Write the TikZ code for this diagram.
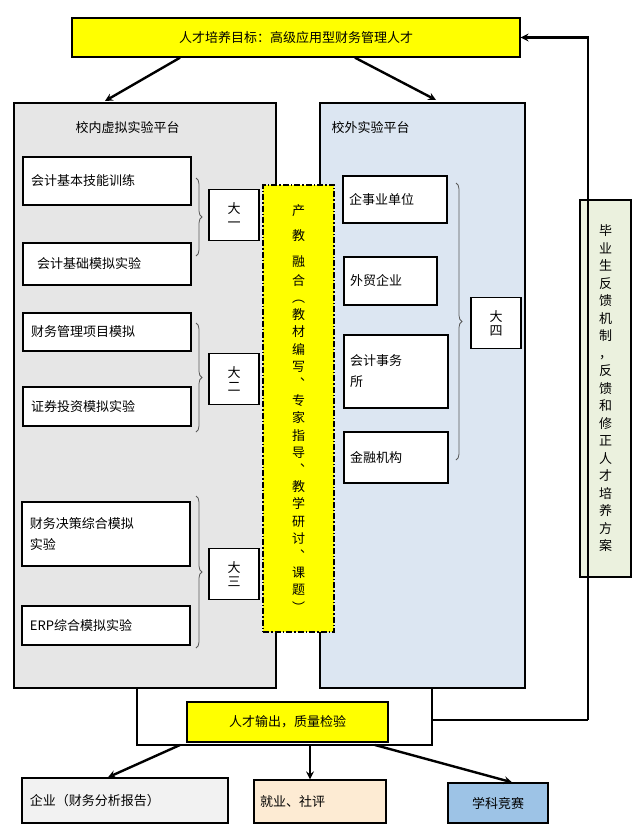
\documentclass[tikz,border=0pt]{standalone}
\usepackage{fontspec}
\setmainfont{Noto Sans CJK SC}
\usetikzlibrary{positioning,decorations.pathreplacing}
\definecolor{goalyellow}{HTML}{FFFF00}
\definecolor{panelgray}{HTML}{E6E6E6}
\definecolor{panelblue}{HTML}{DCE6F2}
\definecolor{feedgreen}{HTML}{EBF1DE}
\definecolor{firmgray}{HTML}{F2F2F2}
\definecolor{jobpeach}{HTML}{FDEBD3}
\definecolor{contestblue}{HTML}{9DC3E6}
\begin{document}
\begin{tikzpicture}[x=1pt,y=-1pt,font=\fontsize{13}{17}\selectfont,
	box/.style={draw=black, line width=1.4pt, fill=white, inner sep=0pt},
	course/.style={box, minimum height=#1, text width=152pt, align=left, inner xsep=8pt},
	grade/.style={box, minimum width=50pt, minimum height=51pt, align=center, font=\fontsize{13}{14}\selectfont},
	site/.style={box, minimum width=104pt, minimum height=#1, text width=92pt, align=left, inner xsep=6pt},
	wire/.style={line width=2.4pt},
	arr/.style={line width=2.4pt, -stealth},
	brace/.style={decorate, decoration={brace, amplitude=6pt}, line width=0.8pt, draw=gray!70!black}]
	\useasboundingbox (0,0) rectangle (640,836);
	% panels
	\node[box, fill=panelgray, minimum width=262pt, minimum height=585pt](inner) at (145,395.5) {};
	\node[box, fill=panelblue, minimum width=205pt, minimum height=585pt](outer) at (422.5,395.5) {};
	\node[anchor=west](innertitle) at (72,128) {校内虚拟实验平台};
	\node[anchor=west](outertitle) at (328,128) {校外实验平台};
	\node[box, fill=goalyellow, minimum width=448pt, minimum height=39pt](goal) at (296,37.5) {人才培养目标：高级应用型财务管理人才};
	\draw[arr] (goal.south -| 180,0) -- (105,101);
	\draw[arr] (goal.south -| 355,0) -- (436,100);
	% inner courses
	\node[course=48pt](c1) at (107,181) {会计基本技能训练};
	\node[course=42pt](c2) at (107,264) {\hspace{6pt}会计基础模拟实验};
	\node[course=38pt](c3) at (107,332) {财务管理项目模拟};
	\node[course=39pt](c4) at (107,406.5) {证券投资模拟实验};
	\node[course=64pt](c5) at (106,534) {财务决策综合模拟\\[4pt]实验};
	\node[course=39pt](c6) at (106,625.5) {ERP综合模拟实验};
	\draw[brace] (196,178) -- (196,256);
	\draw[brace] (196,323) -- (196,432);
	\draw[brace] (196,496) -- (196,648);
	\node[grade](g1) at (234,215) {大\\一};
	\node[grade](g2) at (234,379) {大\\二};
	\node[grade](g3) at (234,574) {大\\三};
	% integration strip
	\node[draw=black, line width=1.4pt, dash pattern=on 6pt off 2pt on 1.5pt off 2pt, fill=goalyellow, minimum width=71pt, minimum height=447pt, align=center, font=\fontsize{13}{17.2}\selectfont](fusion) at (298.5,408.5)
		{产\\[8pt]教\\[8pt]融\\[2pt]合\\︵\\教\\材\\编\\写\\︑\\专\\家\\指\\导\\︑\\教\\学\\研\\讨\\︑\\课\\题\\︶};
	% outer sites
	\node[site=47pt](s1) at (395,199.5) {企事业单位};
	\node[site=48pt, minimum width=93pt, text width=81pt](s2) at (390.5,281) {外贸企业};
	\node[site=73pt](s3) at (396,371.5) {会计事务\\[4pt]所};
	\node[site=51pt](s4) at (396,457.5) {金融机构};
	\draw[brace] (456,183) -- (456,460);
	\node[grade](g4) at (496,323) {大\\四};
	% feedback
	\node[box, fill=feedgreen, minimum width=51pt, minimum height=377pt, align=center, font=\fontsize{13}{17.5}\selectfont](feedback) at (605.5,388.5)
		{毕\\业\\生\\反\\馈\\机\\制\\，\\反\\馈\\和\\修\\正\\人\\才\\培\\养\\方\\案};
	% output
	\coordinate (fbturn) at (588,720);
	\draw[wire] (outer.south -| 432,0) |- (fbturn);
	\draw[arr] (fbturn) |- (goal.east);
	\draw[wire] (inner.south -| 137,0) |- (432,745) -- (432,720);
	\node[box, fill=goalyellow, minimum width=201pt, minimum height=40pt](output) at (287.5,722) {人才输出，质量检验};
	\node[box, fill=firmgray, minimum width=206pt, minimum height=45pt, text width=190pt, align=left](firm) at (125,800.5) {企业（财务分析报告）};
	\node[box, fill=jobpeach, minimum width=132pt, minimum height=43pt, text width=120pt, align=left](job) at (320,801.5) {就业、社评};
	\node[box, fill=contestblue, minimum width=100pt, minimum height=40pt](contest) at (498,803) {学科竞赛};
	\draw[arr] (180,745) -- (firm.north -| 108,0);
	\draw[arr] (310,745) -- (job.north -| 310,0);
	\draw[arr] (375,745) -- (contest.north -| 512,0);
\end{tikzpicture}
\end{document}
